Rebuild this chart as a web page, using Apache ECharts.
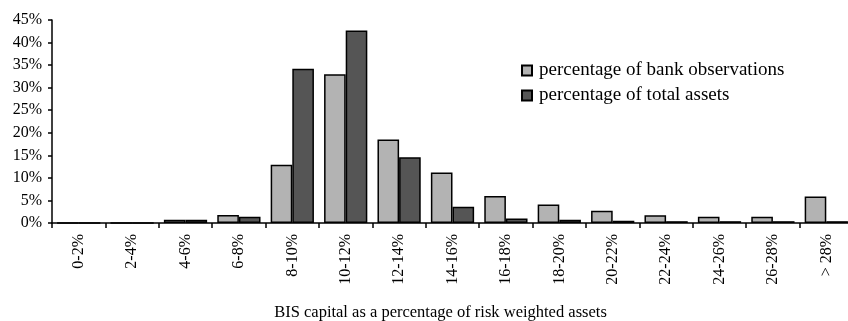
<!DOCTYPE html>
<html>
<head>
<meta charset="utf-8">
<script src="https://cdn.jsdelivr.net/npm/echarts@6/dist/echarts.min.js"></script>
<style>
  html, body { margin: 0; padding: 0; background: #fff; }
  #chart { width: 848px; height: 321px; }
</style>
</head>
<body>
<div id="chart"></div>
<script>
// capital ratio classes
const categories = ['0-2%', '2-4%', '4-6%', '6-8%', '8-10%', '10-12%', '12-14%', '14-16%',
  '16-18%', '18-20%', '20-22%', '22-24%', '24-26%', '26-28%', '> 28%']
// percentage of bank observations
const bankObs = [0, 0, 0.7, 1.8, 12.9, 33.0, 18.5, 11.2, 6.0, 4.1, 2.7, 1.7, 1.4, 1.4, 5.9]
// percentage of total assets
const totalAssets = [0, 0, 0.7, 1.4, 34.2, 42.7, 14.6, 3.6, 1.0, 0.7, 0.5, 0.4, 0.4, 0.4, 0.4]

const font = 'Liberation Serif'

const chart = echarts.init(document.getElementById('chart'))
const option = {
  animation: false,
  textStyle: { fontFamily: font, color: '#000' },
  grid: {
    left: 52,
    top: 20,
    width: 801,
    height: 203,
    containLabel: false,
    outerBoundsMode: 'none'
  },
  legend: {
    orient: 'vertical',
    left: 516,
    top: 56,
    icon: 'rect',
    itemWidth: 10,
    itemHeight: 10,
    itemGap: 6,
    textStyle: { fontFamily: font, fontSize: 19, color: '#000', padding: [0, 0, 0, 2] },
    data: ['percentage of bank observations', 'percentage of total assets']
  },
  xAxis: {
    type: 'category',
    data: categories,
    name: 'BIS capital as a percentage of risk weighted assets',
    nameLocation: 'middle',
    nameGap: 81,
    nameTextStyle: { fontFamily: font, fontSize: 16.5, color: '#000', padding: [0, 24, 0, 0] },
    axisLine: { lineStyle: { color: '#000', width: 1.5 } },
    axisTick: { show: true, length: 5, lineStyle: { color: '#000', width: 1.5 } },
    axisLabel: { rotate: 90, interval: 0, margin: 11, fontFamily: font, fontSize: 16, color: '#000' }
  },
  yAxis: {
    type: 'value',
    min: 0,
    max: 45,
    interval: 5,
    splitLine: { show: false },
    axisLine: { show: true, lineStyle: { color: '#000', width: 1.5 } },
    axisTick: { show: true, length: 4, lineStyle: { color: '#000', width: 1.5 } },
    axisLabel: { formatter: '{value}%', margin: 10, fontFamily: font, fontSize: 16, color: '#000' }
  },
  series: [
    {
      name: 'percentage of bank observations',
      type: 'bar',
      barGap: '0%',
      barCategoryGap: '19%',
      data: bankObs,
      itemStyle: { color: '#b3b3b3', borderColor: '#000', borderWidth: 1.5 }
    },
    {
      name: 'percentage of total assets',
      type: 'bar',
      data: totalAssets,
      itemStyle: { color: '#555555', borderColor: '#000', borderWidth: 1.5 }
    }
  ]
}
chart.setOption(option)
</script>
</body>
</html>
